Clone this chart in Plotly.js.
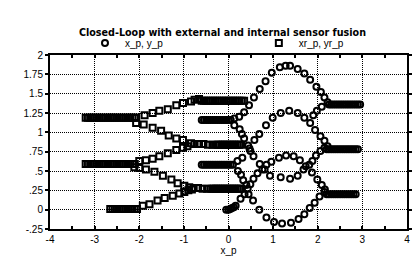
<!DOCTYPE html>
<html>
<head>
<meta charset="utf-8">
<script src="https://cdn.plot.ly/plotly-3.0.1.min.js"></script>
<style>html,body{margin:0;padding:0;background:#fff;}#chart{width:416px;height:264px;}</style>
</head>
<body>
<div id="chart"></div>
<script>
// ---- data: robot positions (x_p, y_p), circles ----
var xp = [
  // top start
  -0.60,-0.55,-0.50,-0.45,-0.40,-0.35,-0.30,-0.25,-0.20,-0.15,-0.10,-0.05,0.00,0.05,
  // upper arch
  0.13,0.24,0.35,0.46,0.57,0.70,0.83,0.97,1.15,1.28,1.38,1.55,1.70,1.83,1.97,2.07,2.15,2.22,
  // top end
  2.25,2.30,2.35,2.40,2.45,2.50,2.55,2.60,2.65,2.70,2.75,2.80,2.85,2.90,2.95,
  // top going down, dip
  0.13,0.25,0.30,0.35,0.44,0.49,0.56,0.70,0.81,0.93,1.17,1.38,1.55,1.68,1.81,1.88,1.96,2.06,2.15,
  // middle start
  -0.60,-0.55,-0.50,-0.45,-0.40,-0.35,-0.30,-0.25,-0.20,-0.15,-0.10,-0.05,0.00,0.05,0.10,
  // middle arch
  0.20,0.31,0.47,0.58,0.69,0.84,0.99,1.17,1.36,1.55,1.70,1.83,1.94,2.06,2.15,2.22,
  // middle end
  2.20,2.25,2.30,2.35,2.40,2.45,2.50,2.55,2.60,2.65,2.70,2.75,2.80,2.85,2.90,
  // middle going down, bottom loop
  0.21,0.28,0.33,0.40,0.45,0.55,0.69,0.85,1.02,1.20,1.40,1.57,1.70,1.82,1.93,2.04,2.15,
  // bottom start
  -0.05,0.00,0.04,0.08,0.12,0.16,
  // lower arch
  0.27,0.36,0.43,0.49,0.56,0.65,0.76,0.85,0.96,1.13,1.29,1.46,1.60,1.73,1.87,1.99,2.09,2.16,
  // bottom end
  2.20,2.25,2.30,2.35,2.40,2.45,2.50,2.55,2.60,2.65,2.70,2.75,2.80,2.85,
  // crossing into top end
  1.90,1.98,2.09
];
var yp = [
  1.16,1.16,1.16,1.16,1.16,1.16,1.16,1.16,1.16,1.16,1.16,1.16,1.16,1.16,
  1.18,1.20,1.26,1.35,1.45,1.56,1.66,1.77,1.84,1.86,1.86,1.82,1.76,1.68,1.59,1.52,1.45,1.39,
  1.36,1.36,1.36,1.36,1.36,1.36,1.36,1.36,1.36,1.36,1.36,1.36,1.36,1.36,1.36,
  1.09,1.04,0.98,0.92,0.83,0.76,0.69,0.59,0.52,0.44,0.42,0.40,0.44,0.52,0.58,0.63,0.70,0.76,0.80,
  0.58,0.58,0.58,0.58,0.58,0.58,0.58,0.58,0.58,0.58,0.58,0.58,0.58,0.58,0.58,
  0.63,0.67,0.79,0.90,0.98,1.09,1.19,1.25,1.28,1.25,1.19,1.12,1.03,0.95,0.89,0.82,
  0.78,0.78,0.78,0.78,0.78,0.78,0.78,0.78,0.78,0.78,0.78,0.78,0.78,0.78,0.78,
  0.50,0.45,0.38,0.32,0.20,0.12,0.00,-0.10,-0.16,-0.18,-0.17,-0.12,-0.06,0.02,0.09,0.17,0.23,
  0.00,0.00,0.01,0.02,0.03,0.05,
  0.14,0.20,0.27,0.33,0.40,0.47,0.52,0.58,0.62,0.67,0.70,0.69,0.64,0.56,0.48,0.39,0.32,0.26,
  0.20,0.20,0.20,0.20,0.20,0.20,0.20,0.20,0.20,0.20,0.20,0.20,0.20,0.20,
  1.22,1.28,1.33
];
// ---- data: reference positions (xr_p, yr_p), squares ----
var xr = [
  // top start
  -3.20,-3.15,-3.10,-3.05,-3.00,-2.95,-2.90,-2.85,-2.80,-2.75,-2.70,-2.65,-2.60,-2.55,-2.50,-2.45,-2.40,-2.35,-2.30,-2.25,-2.20,-2.15,-2.10,
  // top up
  -2.07,-1.88,-1.70,-1.55,-1.36,-1.17,-1.02,-0.84,-0.76,-0.66,
  // top end
  -0.60,-0.55,-0.50,-0.45,-0.40,-0.35,-0.30,-0.25,-0.20,-0.15,-0.10,-0.05,0.00,0.05,0.10,0.15,0.20,0.25,0.30,0.35,
  // top down
  -2.07,-1.90,-1.70,-1.51,-1.34,-1.17,-1.02,-0.84,-0.76,-0.66,-0.56,-0.46,-0.36,
  // middle start
  -3.20,-3.15,-3.10,-3.05,-3.00,-2.95,-2.90,-2.85,-2.80,-2.75,-2.70,-2.65,-2.60,-2.55,-2.50,-2.45,-2.40,-2.35,-2.30,-2.25,-2.20,-2.15,-2.10,
  // middle up
  -2.00,-1.85,-1.70,-1.55,-1.36,-1.17,-1.02,-0.92,
  // upper-middle end
  -0.28,-0.24,-0.20,-0.16,-0.12,-0.08,-0.04,0.00,0.04,0.08,0.12,0.16,0.20,0.24,0.28,
  // middle down
  -2.11,-2.00,-1.85,-1.66,-1.47,-1.28,-1.14,-0.99,-0.88,-0.78,-0.68,-0.58,-0.48,
  // lower-middle end
  -0.40,-0.36,-0.32,-0.28,-0.24,-0.20,-0.16,-0.12,-0.08,-0.04,0.00,0.04,0.08,0.12,0.16,0.20,0.24,0.28,
  // bottom start
  -2.65,-2.60,-2.55,-2.50,-2.45,-2.40,-2.35,-2.30,-2.25,-2.20,-2.15,-2.10,-2.05,
  // bottom up
  -1.92,-1.77,-1.59,-1.43,-1.25,-1.10,-0.99,-0.90,-0.82
];
var yr = [
  1.19,1.19,1.19,1.19,1.19,1.19,1.19,1.19,1.19,1.19,1.19,1.19,1.19,1.19,1.19,1.19,1.19,1.19,1.19,1.19,1.19,1.19,1.19,
  1.19,1.22,1.25,1.28,1.30,1.35,1.38,1.40,1.42,1.43,
  1.41,1.41,1.41,1.41,1.41,1.41,1.41,1.41,1.41,1.41,1.41,1.41,1.41,1.41,1.41,1.41,1.41,1.41,1.41,1.41,
  1.12,1.10,1.06,1.02,0.96,0.92,0.90,0.86,0.85,0.85,0.85,0.84,0.84,
  0.59,0.59,0.59,0.59,0.59,0.59,0.59,0.59,0.59,0.59,0.59,0.59,0.59,0.59,0.59,0.59,0.59,0.59,0.59,0.59,0.59,0.59,0.59,
  0.63,0.64,0.66,0.69,0.73,0.77,0.80,0.82,
  0.84,0.84,0.84,0.84,0.84,0.84,0.84,0.84,0.84,0.84,0.84,0.84,0.84,0.84,0.84,
  0.55,0.54,0.52,0.49,0.44,0.39,0.34,0.31,0.29,0.28,0.28,0.27,0.27,
  0.27,0.27,0.27,0.27,0.27,0.27,0.27,0.27,0.27,0.27,0.27,0.27,0.27,0.27,0.27,0.27,0.27,0.27,
  0.01,0.01,0.01,0.01,0.01,0.01,0.01,0.01,0.01,0.01,0.01,0.01,0.01,
  0.05,0.07,0.12,0.15,0.18,0.21,0.23,0.25,0.26
];
var xTicks = [-4,-3,-2,-1,0,1,2,3,4];
var xTickText = ['-4','-3','-2','-1','0','1','2','3','4'];
var yTicks = [-0.25,0,0.25,0.5,0.75,1,1.25,1.5,1.75,2];
var yTickText = ['-.25','0','.25','.5','.75','1','1.25','1.5','1.75','2'];

var traces = [
  {x: xp, y: yp, type: 'scatter', mode: 'markers', name: 'x_p, y_p', legend: 'legend',
   marker: {symbol: 'circle-open', size: 6, color: '#000', line: {width: 2, color: '#000'}}},
  {x: xr, y: yr, type: 'scatter', mode: 'markers', name: 'xr_p, yr_p', legend: 'legend2',
   marker: {symbol: 'square-open', size: 6, color: '#000', line: {width: 2, color: '#000'}}}
];
var axisCommon = {
  showline: true, linecolor: '#000', linewidth: 2, mirror: 'allticks',
  ticks: 'outside', ticklen: 3, tickwidth: 2, tickcolor: '#000',
  showgrid: true, gridcolor: '#000', gridwidth: 1, griddash: '1px,1px',
  zeroline: false, fixedrange: true,
  tickfont: {family: 'Liberation Sans', size: 10, color: '#000'}
};
var legendFont = {family: 'Liberation Sans', size: 10, color: '#000'};
var layout = {
  width: 416, height: 264,
  margin: {l: 50, r: 9, t: 55, b: 35},
  paper_bgcolor: '#fff', plot_bgcolor: '#fff',
  font: {family: 'Liberation Sans', size: 10, color: '#000'},
  title: {text: 'Closed-Loop with external and internal sensor fusion',
          font: {family: 'DejaVu Sans', size: 9.6, weight: 'bold', color: '#000'},
          xref: 'paper', x: 0.483, xanchor: 'center', yref: 'container', y: 0.878, yanchor: 'middle'},
  showlegend: true,
  legend: {orientation: 'h', x: 0.098, xanchor: 'left', y: 1.069, yanchor: 'middle',
           bgcolor: 'rgba(0,0,0,0)', font: legendFont, itemwidth: 30},
  legend2: {orientation: 'h', x: 0.585, xanchor: 'left', y: 1.069, yanchor: 'middle',
           bgcolor: 'rgba(0,0,0,0)', font: legendFont, itemwidth: 30},
  xaxis: Object.assign({}, axisCommon, {range: [-4, 4], tickmode: 'array', tickvals: xTicks, ticktext: xTickText,
     ticks: 'inside', ticklen: 3,
     minor: {dtick: 0.5, ticks: 'inside', ticklen: 3, tickwidth: 2, tickcolor: '#000', showgrid: false},
     title: {text: 'x_p', font: {family: 'Liberation Sans', size: 10, color: '#000'}, standoff: 0}}),
  yaxis: Object.assign({}, axisCommon, {range: [-0.25, 2], tickmode: 'array', tickvals: yTicks, ticktext: yTickText})
};
Plotly.newPlot('chart', traces, layout, {staticPlot: true, displayModeBar: false});
</script>
</body>
</html>
